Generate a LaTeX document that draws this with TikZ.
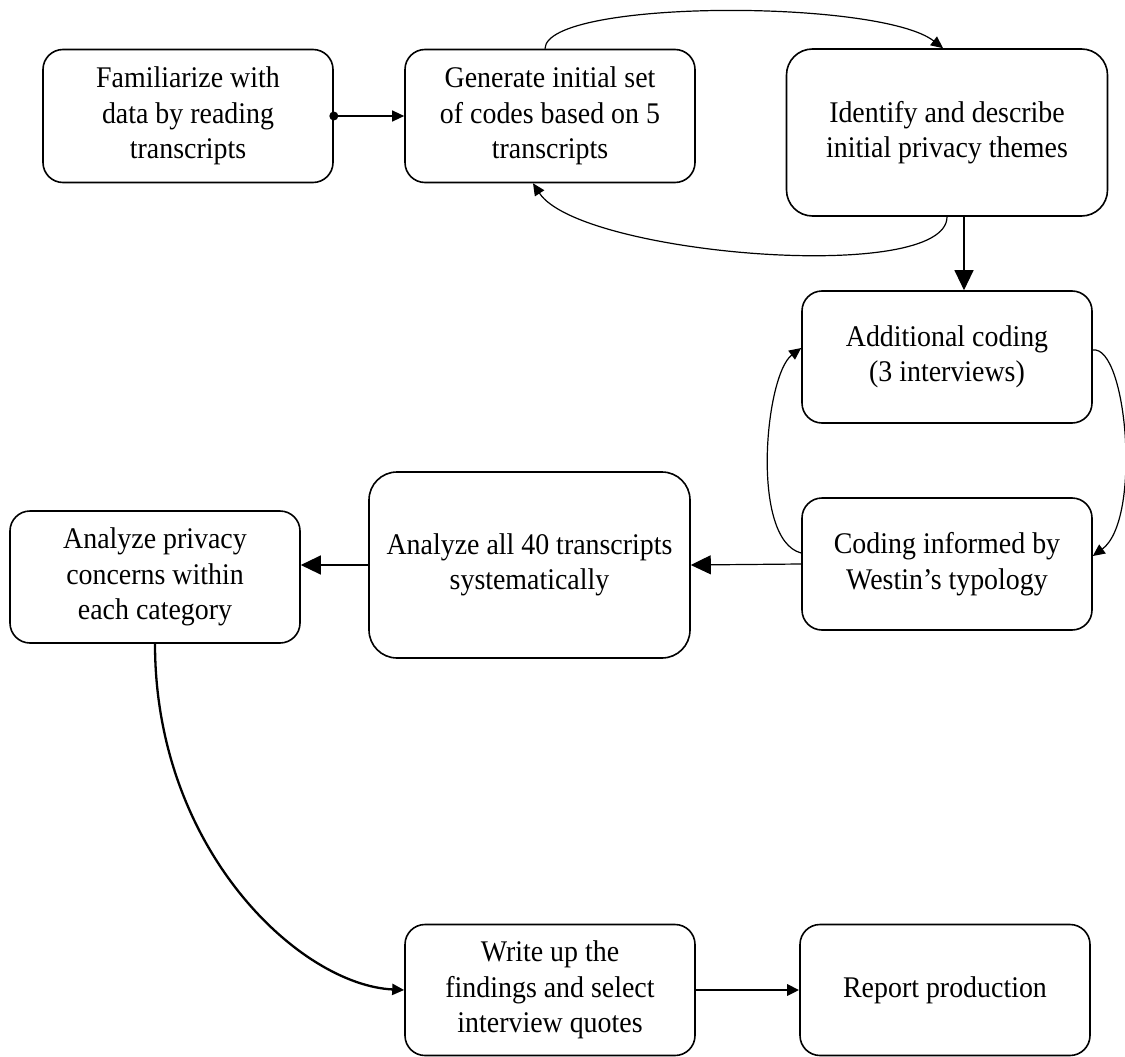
\documentclass[tikz,border=0pt]{standalone}
\usepackage{fontspec}
\setmainfont[FakeStretch=0.93]{Liberation Serif}
\usetikzlibrary{arrows.meta}
\begin{document}
\begin{tikzpicture}[x=1pt,y=-1pt,
  box/.style={draw, line width=1.6pt, rounded corners=20pt, align=center, inner sep=0pt,
    font=\fontsize{30}{35.5}\selectfont, minimum width=290pt, minimum height=133pt},
  conn/.style={line width=1.2pt, -{Triangle[length=12pt,width=11pt]}},
  bigconn/.style={line width=1.2pt, -{Triangle[length=20pt,width=19pt]}},
  thickconn/.style={line width=2.3pt, -{Triangle[length=12pt,width=11pt]}}]
\useasboundingbox (0,0) rectangle (1125,1057);

\node[box] (b1) at (188,116) {Familiarize with\\data by reading\\transcripts};
\node[box] (b2) at (550,116) {Generate initial set\\of codes based on 5\\transcripts};
\node[box, minimum width=321pt, minimum height=167pt, rounded corners=26pt] (b3) at (947,132.5) {Identify and describe\\initial privacy themes};
\node[box, minimum height=132pt] (b4) at (947,357) {Additional coding\\(3 interviews)};
\node[box, minimum height=132pt] (b5) at (947,564) {Coding informed by\\Westin’s typology};
\node[box, minimum width=321pt, minimum height=186pt, rounded corners=28pt] (b6) at (529.5,565) {Analyze all 40 transcripts\\systematically};
\node[box, minimum height=132pt] (b7) at (155,577) {Analyze privacy\\concerns within\\each category};
\node[box, minimum height=131pt] (b8) at (550,990) {Write up the\\findings and select\\interview quotes};
\node[box, minimum height=131pt] (b9) at (945,990) {Report production};

% b1 -> b2 with dot
\fill (b1.east) circle (4.5pt);
\draw[conn] (b1.east) -- (b2.west);

% b2 -> b3 over the top
\draw[conn] ([xshift=-5pt]b2.north) .. controls (546,-1) and (880,-1) .. ([xshift=-4pt]b3.north);

% b3 -> b2 underneath
\draw[conn] (b3.south) .. controls (947,285) and (580,255) .. ([xshift=-17pt]b2.south);

% b3 -> b4 straight
\draw[bigconn] ([xshift=17pt]b3.south) -- ([xshift=17pt]b4.north);

% b4 -> b5 on the right
\draw[conn] ([yshift=7pt]b4.east) .. controls (1127,345) and (1142,520) .. ([yshift=8pt]b5.east);

% b5 -> b4 on the left
\draw[conn] ([yshift=11pt]b5.west) .. controls (750,540) and (765,375) .. ([yshift=9pt]b4.west);

% b5 -> b6
\draw[bigconn] (b5.west) -- (b6.east);

% b6 -> b7
\draw[bigconn] (b6.west) -- (b6.west -| b7.east);

% b7 -> b8
\draw[thickconn] (b7.south) .. controls (155,850) and (300,985) .. (b8.west);

% b8 -> b9
\draw[thickconn, line width=2.8pt] (b8.east) -- (b9.west);
\end{tikzpicture}
\end{document}
